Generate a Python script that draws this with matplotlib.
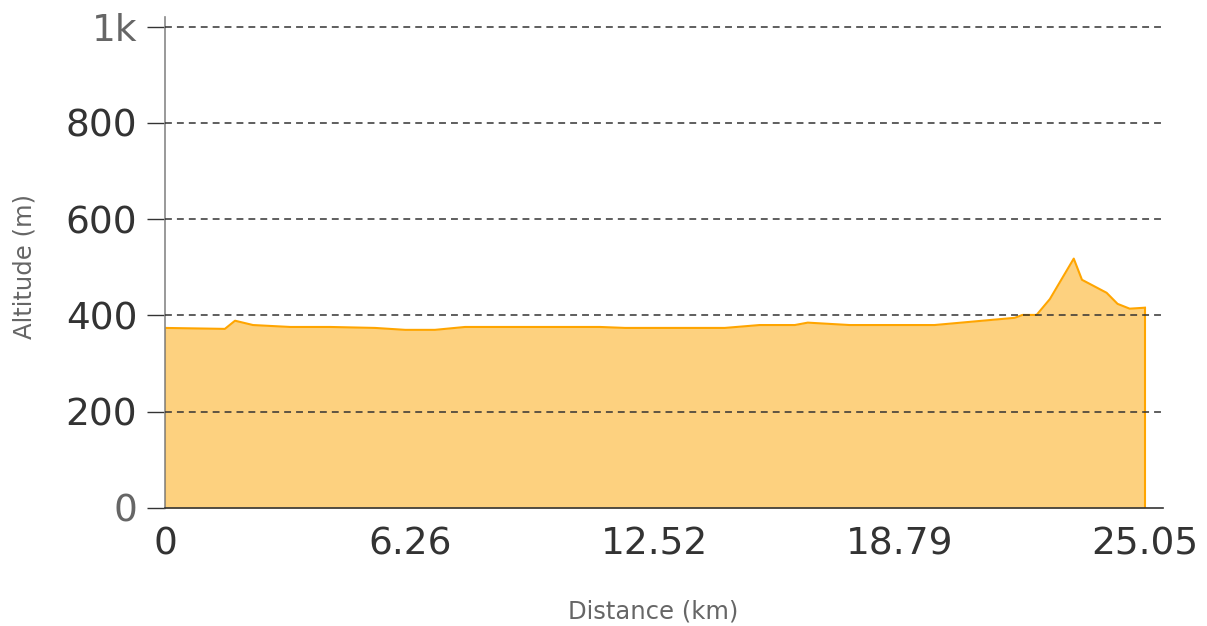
import matplotlib
matplotlib.use("Agg")
import matplotlib.pyplot as plt

# Profil altimétrique (distance en km, altitude en m)
distance = [0.0, 1.53, 1.79, 2.25, 3.20, 4.22, 5.37, 6.14, 6.90, 7.67,
            8.56, 11.12, 11.76, 14.31, 15.20, 16.10, 16.43, 17.50, 18.27,
            19.67, 21.72, 21.92, 22.28, 22.62, 23.23, 23.44, 24.07, 24.35,
            24.66, 25.05]
altitude = [374, 372, 389, 380, 376, 376, 374, 370, 370, 376,
            376, 376, 374, 374, 380, 380, 385, 380, 380,
            380, 395, 401, 401, 434, 518, 474, 447, 424,
            414, 416]

x_ticks = [0, 6.26, 12.52, 18.79, 25.05]
x_tick_labels = ["0", "6.26", "12.52", "18.79", "25.05"]
y_ticks = [0, 200, 400, 600, 800, 1000]
y_tick_labels = ["0", "200", "400", "600", "800", "1k"]

fig = plt.figure(figsize=(12.07, 6.26), dpi=100)
ax = fig.add_axes([0.1367, 0.1885, 0.8268, 0.7845])

ax.fill_between(distance, altitude, 0, color="#fdd17f", linewidth=0, zorder=1)
ax.plot(distance, altitude, color="#ffa500", linewidth=1.5, zorder=2)
ax.plot([distance[0], distance[0]], [0, altitude[0]], color="#ffa500", linewidth=1.5, zorder=2)
ax.plot([distance[-1], distance[-1]], [0, altitude[-1]], color="#ffa500", linewidth=1.5, zorder=2)

ax.set_xlim(0, 25.51)
ax.set_ylim(0, 1020)

for y in y_ticks[1:]:
    ax.axhline(y, color="#333333", linestyle=(0, (4.5, 3.3)), linewidth=1.1, zorder=3)

ax.set_xticks(x_ticks)
ax.set_xticklabels(x_tick_labels, fontsize=27, color="#333333")
ax.set_yticks(y_ticks)
ax.set_yticklabels(y_tick_labels, fontsize=27, color="#333333")
for lbl in (ax.get_yticklabels()[0], ax.get_yticklabels()[-1]):
    lbl.set_color("#666666")

ax.tick_params(axis="x", length=0, pad=13)
ax.tick_params(axis="y", length=13, width=1, color="#333333", pad=7)
ax.set_xticks([0], minor=True)
ax.tick_params(axis="x", which="minor", length=6.5, color="#888888", width=1.2)

for side in ("top", "right"):
    ax.spines[side].set_visible(False)
ax.spines["left"].set_color("#888888")
ax.spines["left"].set_linewidth(1.2)
ax.spines["bottom"].set_color("#333333")
ax.spines["bottom"].set_linewidth(1.2)

fig.text(0.5415, 0.0225, "Distance (km)", fontsize=17.5, color="#666666", ha="center",
         va="center")
fig.text(0.0207, 0.575, "Altitude (m)", fontsize=17.5, color="#666666", ha="center",
         va="center", rotation=90)

fig.savefig("out.png", dpi=100)
